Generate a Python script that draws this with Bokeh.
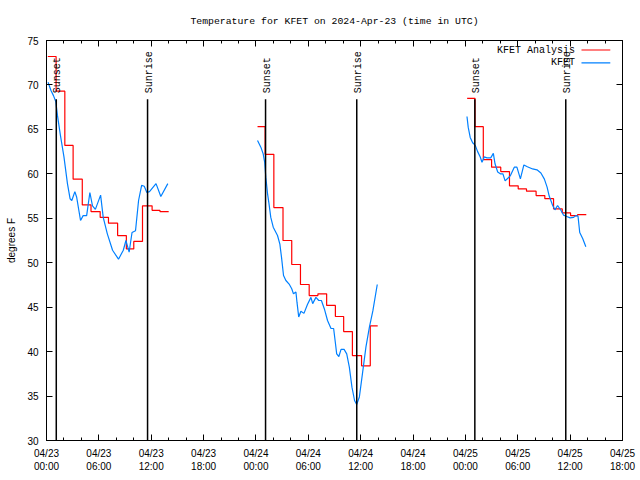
import math
from bokeh.plotting import figure
from bokeh.models import Range1d, FixedTicker, LinearAxis
from bokeh.core.properties import value
from bokeh.embed import file_html
from bokeh.resources import INLINE

# ---------------- data (hours since 2024-04-23 00:00 UTC) ----------------
x_start, x_end = 0, 66
y_start, y_end = 30, 75

tick_hours = [0, 6, 12, 18, 24, 30, 36, 42, 48, 54, 60, 66]
tick_labels = ["04/23\n00:00", "04/23\n06:00", "04/23\n12:00", "04/23\n18:00",
               "04/24\n00:00", "04/24\n06:00", "04/24\n12:00", "04/24\n18:00",
               "04/25\n00:00", "04/25\n06:00", "04/25\n12:00", "04/25\n18:00"]
minor_hours = [2, 4, 8, 10, 14, 16, 20, 22, 26, 28, 32, 34, 38, 40, 44, 46,
               50, 52, 56, 58, 62, 64]
y_ticks = [30, 35, 40, 45, 50, 55, 60, 65, 70, 75]

# KFET Analysis (hourly, drawn as steps)
analysis_t_day1 = [0.15, 1.1, 2.1, 3.05, 4.1, 5.1, 6.15, 7.1, 8.15, 9.15, 10.0, 11.0, 12.1, 13.0, 14.0]
analysis_v_day1 = [73.2, 69.3, 63.2, 59.4, 56.5, 55.75, 55.1, 54.45, 53.05, 51.55, 52.4, 56.4, 55.9, 55.75, 55.75]
analysis_t_day2 = [24.18, 25.05, 26.05, 27.1, 28.1, 29.1, 30.1, 31.1, 32.1, 33.1, 34.05, 35.05, 36.1, 37.1, 37.95]
analysis_v_day2 = [65.3, 62.2, 56.2, 52.5, 49.8, 47.55, 46.3, 46.5, 45.2, 43.95, 42.25, 39.55, 38.4, 42.9, 42.9]
analysis_t_day3 = [48.2, 49.1, 50.05, 51.0, 52.05, 53.05, 54.05, 55.0, 56.1, 57.1, 58.1, 59.1, 60.05, 60.85, 61.85]
analysis_v_day3 = [68.5, 65.3, 61.6, 60.75, 60.25, 58.65, 58.3, 58.05, 57.55, 57.2, 56.05, 55.6, 55.3, 55.4, 55.4]

# KFET observations
obs_t_day1 = [0.18, 0.5, 0.8, 1.07, 1.25, 1.6, 2.0, 2.4, 2.7, 2.9, 3.25, 3.45, 3.9, 4.2, 4.6,
              4.97, 5.27, 5.6, 6.2, 6.5, 6.97, 7.57, 8.25, 8.8, 9.1, 9.47, 9.8, 10.2, 10.55,
              10.9, 11.2, 11.5, 11.8, 12.55, 13.1, 13.9]
obs_v_day1 = [70.3, 69.4, 68.8, 68.1, 66.6, 64.3, 61.9, 58.9, 57.2, 57.0, 58.0, 57.4, 54.75, 55.3, 55.3,
              57.9, 56.4, 56.0, 57.6, 55.1, 53.25, 51.4, 50.4, 51.4, 52.5, 51.2, 53.4, 53.6, 57.0,
              58.7, 58.6, 57.9, 58.0, 58.9, 57.45, 58.9]
obs_t_day2 = [24.18, 24.56, 24.83, 25.0, 25.13, 25.33, 25.5, 25.7, 25.98, 26.47, 26.74, 26.93, 27.16,
              27.43, 27.8, 28.1, 28.3, 28.58, 28.7, 28.9, 29.15, 29.5, 29.9, 30.3, 30.5, 30.87, 31.2,
              31.5, 31.84, 32.2, 32.6, 32.9, 33.1, 33.25, 33.5, 33.75, 34.1, 34.4, 34.7, 35.0, 35.3,
              35.54, 35.85, 36.2, 36.6, 37.0, 37.4, 37.9]
obs_v_day2 = [63.75, 63.0, 62.25, 61.3, 59.6, 57.75, 56.6, 55.1, 54.0, 53.06, 52.1, 50.6, 48.56,
              48.0, 47.6, 47.07, 46.5, 46.7, 45.56, 43.9, 44.55, 44.3, 45.3, 46.1, 45.4, 46.1, 45.75,
              45.75, 44.8, 43.5, 42.6, 42.6, 41.0, 39.75, 39.45, 40.25, 40.25, 39.75, 38.25, 36.0, 34.5,
              34.05, 34.9, 37.5, 40.5, 42.75, 44.6, 47.55]
obs_t_day3 = [48.18, 48.32, 48.55, 48.83, 49.13, 49.4, 49.7, 49.9, 50.16, 50.47, 50.9, 51.2, 51.4,
              51.7, 52.0, 52.3, 52.55, 52.86, 53.16, 53.6, 53.9, 54.3, 54.7, 55.1, 55.7, 56.2, 56.65,
              57.05, 57.36, 57.6, 58.0, 58.26, 58.56, 58.94, 59.25, 59.62, 60.0, 60.4, 60.65, 60.9,
              61.1, 61.45, 61.8]
obs_v_day3 = [66.45, 65.25, 64.1, 63.5, 63.2, 62.5, 61.9, 61.3, 61.9, 61.8, 61.8, 62.3, 61.1,
              60.2, 60.0, 60.0, 59.2, 59.5, 59.8, 60.75, 60.75, 59.44, 61.0, 60.8, 60.55, 60.45, 60.1,
              59.4, 58.5, 57.5, 56.44, 55.95, 56.44, 55.9, 55.35, 55.2, 55.05, 55.1, 55.3, 55.25,
              53.4, 52.7, 51.8]

sun_times = [1.12, 11.58, 25.1, 35.55, 49.08, 59.5]
sun_labels = ["Sunset", "Sunrise", "Sunset", "Sunrise", "Sunset", "Sunrise"]
sun_line_top = 68.4

series_names = ["KFET Analysis", "KFET"]
series_colors = ["#ff0000", "#0080ff"]

# ---------------- figure ----------------
MONO = "Liberation Mono"
SANS = "Liberation Sans"

p = figure(width=640, height=480, x_range=Range1d(x_start, x_end),
           y_range=Range1d(y_start, y_end), output_backend="svg",
           toolbar_location=None, min_border_left=46, min_border_right=18,
           min_border_top=40, min_border_bottom=40,
           title="Temperature for KFET on 2024-Apr-23 (time in UTC)")
p.title.align = "center"
p.title.text_font = MONO
p.title.text_font_size = "9.8px"
p.title.text_font_style = "normal"
p.title.text_color = "black"
p.title.standoff = 27
p.grid.visible = False
p.outline_line_color = "black"
p.outline_line_width = 1
p.outline_line_alpha = 1
p.background_fill_color = "white"
p.border_fill_color = "white"

def style_axis(ax, ticks, show_labels):
    ax.major_tick_in = 6
    ax.major_tick_out = 0
    ax.minor_tick_in = 3
    ax.minor_tick_out = 0
    ax.major_tick_line_color = "black"
    ax.minor_tick_line_color = "black"
    ax.axis_line_color = "black"
    ax.major_label_text_font = SANS
    ax.major_label_text_color = "black"
    ax.major_label_text_font_size = "10px"
    if not show_labels:
        ax.major_label_overrides = {t: "" for t in ticks}
        ax.major_label_standoff = 0

xt = FixedTicker(ticks=tick_hours, minor_ticks=minor_hours)
yt = FixedTicker(ticks=y_ticks, minor_ticks=[])

p.xaxis.ticker = xt
style_axis(p.xaxis[0], tick_hours, True)
p.xaxis.major_label_overrides = {h: s for h, s in zip(tick_hours, tick_labels)}
p.xaxis.major_label_standoff = 7

p.yaxis.ticker = yt
style_axis(p.yaxis[0], y_ticks, True)
p.yaxis.major_label_standoff = 8
p.yaxis.axis_label = "degrees F"
p.yaxis.axis_label_text_font = SANS
p.yaxis.axis_label_text_font_size = "10px"
p.yaxis.axis_label_text_font_style = "normal"
p.yaxis.axis_label_text_color = "black"
p.yaxis.axis_label_standoff = 7

top_axis = LinearAxis(ticker=xt)
style_axis(top_axis, tick_hours, False)
p.add_layout(top_axis, "above")
right_axis = LinearAxis(ticker=yt)
style_axis(right_axis, y_ticks, False)
p.add_layout(right_axis, "right")

# ---------------- data lines ----------------
for t, v in [(analysis_t_day1, analysis_v_day1), (analysis_t_day2, analysis_v_day2),
             (analysis_t_day3, analysis_v_day3)]:
    p.step(t, v, mode="after", line_color=series_colors[0], line_width=1.2)

for t, v in [(obs_t_day1, obs_v_day1), (obs_t_day2, obs_v_day2), (obs_t_day3, obs_v_day3)]:
    p.line(t, v, line_color=series_colors[1], line_width=1.2)

# ---------------- sunrise / sunset markers ----------------
n = len(sun_times)
p.segment(x0=sun_times, y0=[y_start] * n, x1=sun_times, y1=[sun_line_top] * n,
          line_color="black", line_width=1.5)
p.text(x=sun_times, y=[sun_line_top] * n, text=sun_labels, angle=math.pi / 2,
       text_align="left", text_baseline="middle", x_offset=1.5, y_offset=-6,
       text_font=value(MONO), text_font_size="10px", text_color="black")

# ---------------- legend (gnuplot style: text then sample) ----------------
leg_text_x = 60.55
leg_line_x0, leg_line_x1 = 61.3, 64.6
leg_y = [73.93, 72.49]
p.text(x=[leg_text_x] * 2, y=leg_y, text=series_names, text_align="right",
       text_baseline="middle", text_font=value(MONO), text_font_size="10px",
       text_color="black")
p.segment(x0=[leg_line_x0] * 2, y0=leg_y, x1=[leg_line_x1] * 2, y1=leg_y,
          line_color=series_colors, line_width=1.2)

open("out.html", "w").write(file_html(p, INLINE))
